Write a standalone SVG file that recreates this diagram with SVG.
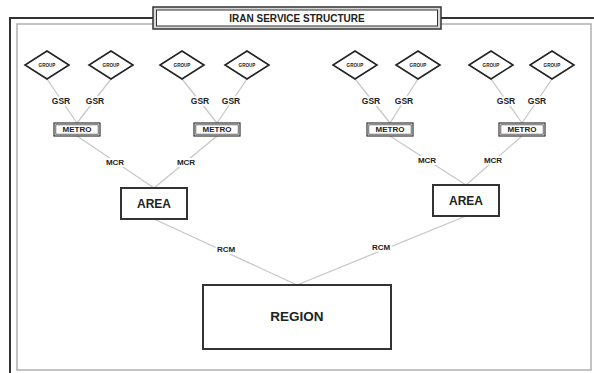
<svg xmlns="http://www.w3.org/2000/svg" width="594" height="373" viewBox="0 0 594 373">
<style>
text{font-family:"Liberation Sans",Arial,sans-serif;font-weight:bold;fill:#222;text-anchor:middle;dominant-baseline:central}
.lbl{paint-order:stroke;stroke:#fff;stroke-width:4px;stroke-linejoin:round}
.gsr{font-size:8.5px}
.mcr{font-size:8px}
.grp{font-size:4.6px}
.met{font-size:8px}
.dia{fill:#fff;stroke:#222;stroke-width:1.6}
.box{fill:#fff;stroke:#333;stroke-width:2}
.mbox{fill:#fff;stroke:#333;stroke-width:1.2}
.inner{fill:none;stroke:#444;stroke-width:0.8}
.conn line{stroke:#c8c8c8;stroke-width:1.3}
</style>
<rect width="594" height="373" fill="#fff"/>
<g id="frame">
<rect x="17" y="24" width="574" height="346" fill="none" stroke="#b0b0b0" stroke-width="1.5"/>
<polyline points="10,373 10,18 153,18" fill="none" stroke="#333" stroke-width="2"/>
<line x1="441" y1="18" x2="594" y2="18" stroke="#333" stroke-width="2"/>
</g>
<g id="title">
<rect x="153" y="7" width="288" height="22" fill="#d8d8d8" stroke="#333" stroke-width="1.5"/>
<rect x="156.5" y="10" width="281" height="16" fill="#fff" stroke="#333" stroke-width="1"/>
<text x="297" y="18.5" style="font-size:10px">IRAN SERVICE STRUCTURE</text>
</g>
<g class="conn" id="connectors">
<line x1="47" y1="79" x2="77" y2="123"/>
<line x1="111" y1="79" x2="77" y2="123"/>
<line x1="182" y1="79" x2="217" y2="123"/>
<line x1="247" y1="79" x2="217" y2="123"/>
<line x1="355" y1="79" x2="390" y2="123"/>
<line x1="418" y1="79" x2="390" y2="123"/>
<line x1="491" y1="79" x2="522" y2="123"/>
<line x1="552" y1="79" x2="522" y2="123"/>
<line x1="77" y1="136" x2="154" y2="188"/>
<line x1="217" y1="136" x2="154" y2="188"/>
<line x1="390" y1="136" x2="466" y2="185"/>
<line x1="522" y1="136" x2="466" y2="185"/>
<line x1="154" y1="219" x2="297" y2="285"/>
<line x1="466" y1="216" x2="297" y2="285"/>
<text class="lbl gsr" x="61" y="101">GSR</text>
<text class="lbl gsr" x="95" y="101">GSR</text>
<text class="lbl gsr" x="200" y="101">GSR</text>
<text class="lbl gsr" x="231" y="101">GSR</text>
<text class="lbl gsr" x="371" y="101">GSR</text>
<text class="lbl gsr" x="404" y="101">GSR</text>
<text class="lbl gsr" x="506" y="101">GSR</text>
<text class="lbl gsr" x="537" y="101">GSR</text>
<text class="lbl mcr" x="115" y="162">MCR</text>
<text class="lbl mcr" x="186" y="162">MCR</text>
<text class="lbl mcr" x="427" y="160">MCR</text>
<text class="lbl mcr" x="493" y="160">MCR</text>
<text class="lbl mcr" x="226" y="249">RCM</text>
<text class="lbl mcr" x="381" y="247">RCM</text>
</g>
<g id="group1"><polygon class="dia" points="47,51 69,65 47,79 25,65"/><text class="grp" x="47" y="65.5">GROUP</text></g>
<g id="group2"><polygon class="dia" points="111,51 133,65 111,79 89,65"/><text class="grp" x="111" y="65.5">GROUP</text></g>
<g id="group3"><polygon class="dia" points="182,51 204,65 182,79 160,65"/><text class="grp" x="182" y="65.5">GROUP</text></g>
<g id="group4"><polygon class="dia" points="247,51 269,65 247,79 225,65"/><text class="grp" x="247" y="65.5">GROUP</text></g>
<g id="group5"><polygon class="dia" points="355,51 377,65 355,79 333,65"/><text class="grp" x="355" y="65.5">GROUP</text></g>
<g id="group6"><polygon class="dia" points="418,51 440,65 418,79 396,65"/><text class="grp" x="418" y="65.5">GROUP</text></g>
<g id="group7"><polygon class="dia" points="491,51 513,65 491,79 469,65"/><text class="grp" x="491" y="65.5">GROUP</text></g>
<g id="group8"><polygon class="dia" points="552,51 574,65 552,79 530,65"/><text class="grp" x="552" y="65.5">GROUP</text></g>
<g id="metro1"><rect class="mbox" x="54" y="123" width="46" height="13"/><rect class="inner" x="55.8" y="124.8" width="42.4" height="9.4"/><text class="met" x="77" y="129.8">METRO</text></g>
<g id="metro2"><rect class="mbox" x="194" y="123" width="46" height="13"/><rect class="inner" x="195.8" y="124.8" width="42.4" height="9.4"/><text class="met" x="217" y="129.8">METRO</text></g>
<g id="metro3"><rect class="mbox" x="367" y="123" width="46" height="13"/><rect class="inner" x="368.8" y="124.8" width="42.4" height="9.4"/><text class="met" x="390" y="129.8">METRO</text></g>
<g id="metro4"><rect class="mbox" x="499" y="123" width="46" height="13"/><rect class="inner" x="500.8" y="124.8" width="42.4" height="9.4"/><text class="met" x="522" y="129.8">METRO</text></g>
<g id="area1"><rect class="box" x="121" y="188" width="66" height="31"/><text x="154" y="204" style="font-size:12px">AREA</text></g>
<g id="area2"><rect class="box" x="433" y="185" width="66" height="31"/><text x="466" y="200.5" style="font-size:12px">AREA</text></g>
<g id="region"><rect class="box" x="203" y="285" width="188" height="64" stroke-width="1.8"/><text x="297" y="316" style="font-size:13.5px">REGION</text></g>
</svg>
